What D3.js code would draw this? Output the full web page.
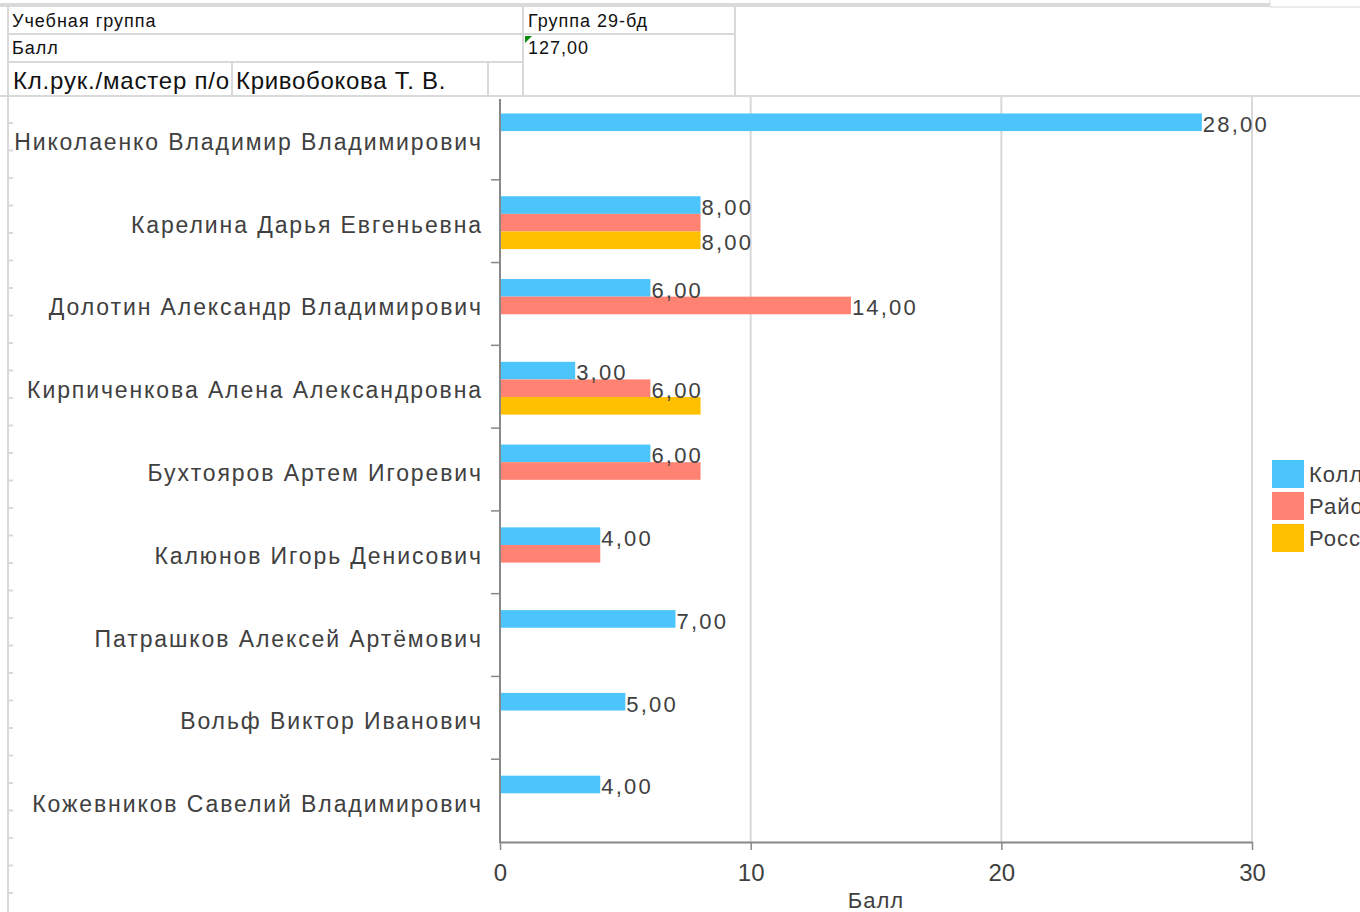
<!DOCTYPE html>
<html>
<head>
<meta charset="utf-8">
<script src="https://cdn.jsdelivr.net/npm/d3@7"></script>
<style>
body { margin: 0; background: #fff; overflow: hidden; }
svg text { font-family: "Liberation Sans", Arial, sans-serif; }
</style>
</head>
<body>
<svg id="chart"></svg>
<script>
// chart values
var students = ['Николаенко Владимир Владимирович', 'Карелина Дарья Евгеньевна', 'Долотин Александр Владимирович',
    'Кирпиченкова Алена Александровна', 'Бухтояров Артем Игоревич', 'Калюнов Игорь Денисович',
    'Патрашков Алексей Артёмович', 'Вольф Виктор Иванович', 'Кожевников Савелий Владимирович'];
var seriesNames = ['Колледжный', 'Районный', 'Российский'];
var seriesColors = ['#4cc5fd', '#ff8273', '#ffc000'];
var college  = [28, 8, 6, 3, 6, 4, 7, 5, 4];
var district = [null, 8, 14, 6, 8, 4, null, null, null];
var russia   = [null, 8, null, 8, null, null, null, null, null];
// which value labels the sheet actually shows (the rest are hidden by overlap)
var collegeLabels  = [1, 1, 1, 1, 1, 1, 1, 1, 1];
var districtLabels = [0, 0, 1, 1, 0, 0, 0, 0, 0];
var russiaLabels   = [0, 1, 0, 0, 0, 0, 0, 0, 0];
var xTicks = [0, 10, 20, 30];
var xTitle = 'Балл';
var headerLeft = ['Учебная группа', 'Балл'];
var headerRight = ['Группа 29-бд', '127,00'];
var teacherCaption = 'Кл.рук./мастер п/о';
var teacherName = 'Кривобокова Т. В.';

var svg = d3.select('#chart').attr('width', 1360).attr('height', 912);
var gridColor = '#d9d9d9';
var textColor = '#404040';

// ---- spreadsheet background ----
var sheet = svg.append('g');
sheet.append('rect').attr('x', 0).attr('y', 3).attr('width', 1270).attr('height', 4).attr('fill', '#dadada');
sheet.append('line').attr('x1', 1270).attr('x2', 1360).attr('y1', 7).attr('y2', 7).attr('stroke', gridColor);
sheet.append('line').attr('x1', 1270).attr('x2', 1270).attr('y1', 0).attr('y2', 7).attr('stroke', gridColor);
sheet.append('line').attr('x1', 8).attr('x2', 8).attr('y1', 7).attr('y2', 912).attr('stroke', gridColor).attr('stroke-width', 2);
var hl = [[8, 735, 34], [8, 523, 62], [0, 1360, 96]];
hl.forEach(function(h) {
    sheet.append('line').attr('x1', h[0]).attr('x2', h[1]).attr('y1', h[2]).attr('y2', h[2]).attr('stroke', gridColor).attr('stroke-width', 2);
});
var vl = [[523, 7, 97], [735, 7, 97], [232, 62, 97], [488, 62, 97]];
vl.forEach(function(v) {
    sheet.append('line').attr('x1', v[0]).attr('x2', v[0]).attr('y1', v[1]).attr('y2', v[2]).attr('stroke', gridColor).attr('stroke-width', 2);
});
// row ticks peeking out left of the chart object
d3.range(123, 912, 27.5).forEach(function(y) {
    sheet.append('line').attr('x1', 8).attr('x2', 13).attr('y1', y).attr('y2', y).attr('stroke', gridColor).attr('stroke-width', 2);
});
[53, 60, 77, 161, 164, 231, 254, 292, 412, 445, 487, 524, 735, 754, 776, 888, 961, 995, 1111, 1151, 1218, 1330].forEach(function(x) {
    sheet.append('line').attr('x1', x).attr('x2', x).attr('y1', 97).attr('y2', 100).attr('stroke', gridColor).attr('stroke-width', 1.5);
});

sheet.selectAll('text.hl').data(headerLeft).enter().append('text').attr('class', 'hl')
    .attr('x', 12).attr('y', function(d, i) { return 27 + i * 27; })
    .style('font-size', '18px').style('letter-spacing', '1px').attr('fill', '#111').text(function(d) { return d; });
sheet.selectAll('text.hr').data(headerRight).enter().append('text').attr('class', 'hr')
    .attr('x', 528).attr('y', function(d, i) { return 27 + i * 27; })
    .style('font-size', '18px').style('letter-spacing', '1px').attr('fill', '#111').text(function(d) { return d; });
sheet.append('path').attr('d', 'M525,36 L532,36 L525,43 Z').attr('fill', '#0a8a0a');
sheet.append('text').attr('x', 13).attr('y', 89).style('font-size', '24px').style('letter-spacing', '0.8px').attr('fill', '#111').text(teacherCaption);
sheet.append('text').attr('x', 236).attr('y', 89).style('font-size', '24px').style('letter-spacing', '0.7px').attr('fill', '#111').text(teacherName);

// ---- chart ----
var chart = svg.append('g');
chart.append('rect').attr('x', 13).attr('y', 97).attr('width', 1347).attr('height', 815).attr('fill', '#fff');

var x = d3.scaleLinear().domain([0, 30]).range([500, 1252]);
var y0 = d3.scaleBand().domain(students).range([97, 842]);
var y1 = d3.scaleBand().domain([0, 1, 2]).range([0, y0.bandwidth()]).paddingOuter(0.85).align(0.55);

chart.selectAll('line.grid').data(xTicks.slice(1)).enter().append('line').attr('class', 'grid')
    .attr('x1', function(d) { return x(d); }).attr('x2', function(d) { return x(d); })
    .attr('y1', 97).attr('y2', 842).attr('stroke', gridColor).attr('stroke-width', 2);

var rows = students.map(function(s, i) {
    return [
        {name: s, k: 0, v: college[i], show: collegeLabels[i]},
        {name: s, k: 1, v: district[i], show: districtLabels[i]},
        {name: s, k: 2, v: russia[i], show: russiaLabels[i]}
    ].filter(function(b) { return b.v != null; });
});
var bars = d3.merge(rows);

chart.selectAll('rect.bar').data(bars).enter().append('rect').attr('class', 'bar')
    .attr('x', x(0))
    .attr('y', function(d) { return y0(d.name) + y1(d.k); })
    .attr('width', function(d) { return x(d.v) - x(0); })
    .attr('height', y1.bandwidth())
    .attr('fill', function(d) { return seriesColors[d.k]; });

chart.selectAll('text.val').data(bars.filter(function(b) { return b.show; })).enter().append('text').attr('class', 'val')
    .attr('x', function(d) { return x(d.v) + 1; })
    .attr('y', function(d) { return y0(d.name) + y1(d.k) + y1.bandwidth() + 1; })
    .style('font-size', '22px').style('letter-spacing', '2.2px').attr('fill', textColor)
    .text(function(d) { return d.v.toFixed(2).replace('.', ','); });

// y axis
var yAxis = chart.append('g').attr('transform', 'translate(' + x(0) + ',0)')
    .call(d3.axisLeft(y0).tickSize(0).tickPadding(17));
yAxis.select('.domain').remove();
yAxis.selectAll('text').style('font-size', '23px').style('letter-spacing', '1.9px').attr('fill', textColor).attr('dy', '0.5em');
chart.selectAll('line.ytick').data(students.slice(1)).enter().append('line').attr('class', 'ytick')
    .attr('x1', x(0) - 9).attr('x2', x(0))
    .attr('y1', function(d) { return y0(d); }).attr('y2', function(d) { return y0(d); })
    .attr('stroke', '#888').attr('stroke-width', 1.5);
chart.append('line').attr('x1', x(0)).attr('x2', x(0)).attr('y1', 99).attr('y2', 843).attr('stroke', '#888').attr('stroke-width', 2);

// x axis
var xAxis = chart.append('g').attr('transform', 'translate(0,842)')
    .call(d3.axisBottom(x).tickValues(xTicks).tickSize(8).tickPadding(14).tickSizeOuter(0));
xAxis.select('.domain').attr('stroke', '#888').attr('stroke-width', 2);
xAxis.selectAll('.tick line').attr('stroke', '#888').attr('stroke-width', 1.5);
xAxis.selectAll('text').style('font-size', '24px').attr('fill', textColor);
chart.append('text').attr('x', (x(0) + x(30)) / 2).attr('y', 908).attr('text-anchor', 'middle')
    .style('font-size', '22px').style('letter-spacing', '1px').attr('fill', textColor).text(xTitle);

// legend (cut by the right edge, as in the sheet)
var legend = chart.selectAll('g.leg').data(seriesNames).enter().append('g').attr('class', 'leg')
    .attr('transform', function(d, i) { return 'translate(1272,' + (460 + i * 32) + ')'; });
legend.append('rect').attr('width', 32).attr('height', 28).attr('fill', function(d, i) { return seriesColors[i]; });
legend.append('text').attr('x', 37).attr('y', 22).style('font-size', '22px').style('letter-spacing', '1px').attr('fill', textColor).text(function(d) { return d; });
</script>
</body>
</html>
